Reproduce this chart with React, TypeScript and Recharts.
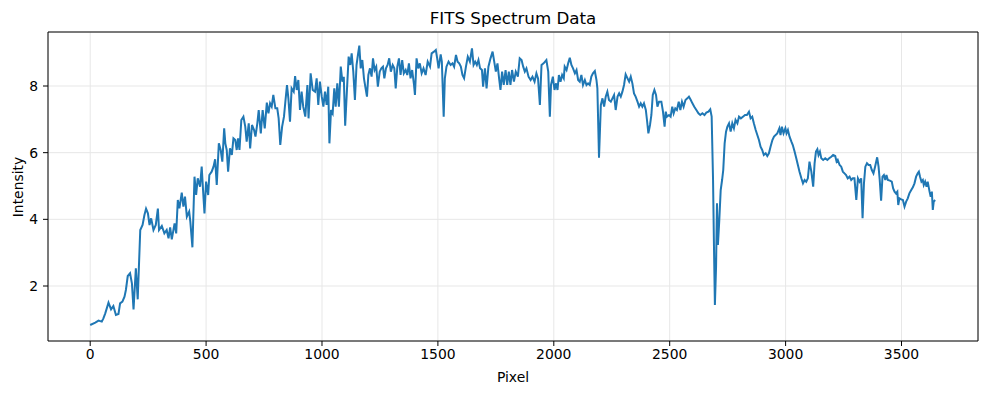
import { LineChart, Line, XAxis, YAxis, CartesianGrid, ReferenceLine } from "recharts";

// pixel index along the spectrum
const pixels = [
  0, 22, 36, 50, 57, 65, 79, 90, 100, 111, 122, 129, 139, 148, 154, 162, 172, 180, 187, 197, 205,
  216, 226, 234, 241, 249, 256, 263, 273, 283, 292, 297, 309, 320, 330, 338, 345, 352, 364, 371,
  378, 385, 395, 402, 409, 417, 427, 432, 441, 450, 457, 464,
  474, 481, 486, 493, 500, 509, 514, 524, 532, 539, 546, 555, 563, 570, 578, 583, 589, 595, 603,
  611, 618, 626, 632, 638, 644, 652, 661, 669, 675, 684, 690, 698, 707, 713, 721, 727, 736, 744,
  753, 762, 769, 776, 783, 790, 799, 807, 813, 820, 828, 836, 842, 849, 855, 862, 869, 878, 884,
  891, 898, 905, 912, 919, 928, 937, 942, 951, 960,
  970, 977, 984, 991, 999, 1006, 1013, 1020, 1027, 1032, 1039, 1046, 1053, 1059, 1066, 1073, 1081,
  1088, 1094, 1100, 1108, 1115, 1122, 1128, 1135, 1142, 1149, 1155, 1161, 1167, 1174, 1181, 1188,
  1194, 1200, 1207, 1214, 1220, 1227, 1234, 1241, 1249, 1256, 1263, 1269, 1276, 1283, 1290, 1297,
  1305, 1312, 1318, 1325, 1332, 1339, 1346, 1353, 1361, 1368, 1375, 1382, 1389, 1397, 1401, 1408,
  1415, 1422, 1430, 1438, 1447, 1456,
  1466, 1473, 1483, 1491, 1497, 1503, 1512, 1517, 1525, 1530, 1537, 1546, 1555, 1563, 1570, 1578,
  1585, 1592, 1599, 1606, 1613, 1621, 1629, 1638, 1647, 1654, 1661, 1668, 1675, 1682, 1690, 1695,
  1703, 1710, 1718, 1727, 1736, 1743, 1750, 1757, 1764, 1770, 1777, 1784, 1792, 1799, 1806, 1813,
  1820, 1828, 1836, 1845, 1853, 1861, 1868, 1875, 1882, 1891, 1900, 1908, 1917, 1925, 1932, 1940,
  1947, 1956,
  1968, 1976, 1983, 1988, 1996, 2003, 2010, 2016, 2022, 2029, 2036, 2043, 2047, 2055, 2062, 2069,
  2076, 2083, 2091, 2098, 2105, 2112, 2119, 2126, 2134, 2141, 2148, 2155, 2162, 2169, 2177, 2184,
  2188, 2195, 2203, 2210, 2217, 2224, 2231, 2238, 2246, 2253, 2260, 2267, 2275, 2282, 2289, 2296,
  2303, 2310, 2318, 2325, 2332, 2339, 2346, 2353, 2361, 2368, 2375, 2382, 2389, 2397, 2402, 2408,
  2415, 2421, 2427, 2434, 2441, 2447, 2454,
  2464, 2471, 2478, 2483, 2488, 2497, 2504, 2511, 2517, 2524, 2531, 2539, 2546, 2553, 2560, 2568,
  2576, 2583, 2591, 2598, 2606, 2615, 2624, 2632, 2641, 2650, 2658, 2667, 2675, 2681, 2687, 2691,
  2695, 2700, 2704, 2708, 2714, 2720, 2726, 2731, 2737, 2743, 2749, 2756, 2763, 2770, 2777, 2784,
  2792, 2799, 2807, 2816, 2825, 2833, 2842, 2849, 2856, 2863, 2871, 2878, 2885, 2892, 2899, 2906,
  2914, 2921, 2928, 2935, 2943, 2950,
  2964, 2973, 2978, 2984, 2991, 2999, 3004, 3010, 3017, 3025, 3031, 3039, 3046, 3053, 3060, 3068,
  3075, 3082, 3089, 3096, 3103, 3111, 3119, 3125, 3131, 3137, 3142, 3148, 3154, 3162, 3171, 3180,
  3188, 3197, 3205, 3214, 3220, 3225, 3233, 3240, 3247, 3254, 3261, 3268, 3276, 3283, 3290,
  3297, 3305, 3312, 3319, 3326, 3332, 3338, 3344, 3351, 3358, 3365, 3372, 3379, 3386, 3395, 3401,
  3406, 3412, 3418, 3424, 3430, 3435, 3441, 3450, 3458, 3464, 3470, 3476, 3482, 3486, 3491, 3499,
  3506, 3513, 3520, 3527, 3534, 3542, 3549, 3556, 3563, 3570, 3575, 3580, 3586, 3592, 3596, 3602,
  3608, 3613, 3621, 3626, 3631, 3635, 3639, 3645,
];

// intensity, one per pixel above
const intensity = [
  0.83, 0.9, 0.96, 0.93, 1.03, 1.18, 1.5, 1.3, 1.4, 1.13, 1.16, 1.48, 1.53, 1.68, 1.88, 2.3, 2.38, 2.08, 1.3, 2.53, 1.6,
  3.68, 3.83, 4.13, 4.32, 4.18, 3.83, 4.03, 3.68, 3.83, 4.32, 3.68, 3.8, 3.58, 3.68, 3.43, 3.76, 3.4, 3.88, 3.58,
  4.58, 4.33, 4.8, 4.38, 4.68, 4.08, 4.23, 3.93, 3.16, 5.28, 4.73, 5.23,
  4.98, 5.58, 4.98, 4.18, 5.13, 4.73, 5.33, 5.43, 5.58, 5.8, 5.03, 6.28, 6.08, 5.73, 6.73, 6.28, 6.08, 5.43, 6.13,
  5.93, 6.43, 6.38, 6.08, 6.43, 6.08, 6.98, 7.08, 6.78, 6.33, 6.88, 6.13, 6.83, 6.68, 6.48, 6.88, 7.28, 6.58, 7.28,
  6.73, 7.5, 7.18, 7.48, 7.38, 7.73, 7.33, 7.33, 7.03, 6.23, 6.78, 7.08, 7.53, 8.03, 7.63, 6.93, 7.93, 7.83, 8.3,
  7.88, 8.18, 7.28, 7.83, 7.38, 7.08, 8.03, 7.03, 8.38, 7.88,
  7.83, 8.23, 7.43, 8.13, 7.68, 7.38, 7.83, 7.43, 7.98, 6.28, 7.28, 7.18, 7.93, 7.38, 8.08, 7.38, 8.58,
  8.13, 8.28, 6.81, 7.93, 8.88, 8.63, 8.98, 8.43, 7.58, 8.63, 8.93, 9.21, 8.53, 8.78, 8.23, 7.93,
  7.68, 8.33, 8.53, 8.28, 8.83, 8.48, 8.58, 7.98, 8.43, 8.53, 8.58, 8.23, 8.53, 8.63, 8.83, 8.43,
  8.63, 8.53, 7.93, 8.58, 8.83, 8.33, 8.78, 8.38, 8.48, 8.33, 8.68, 8.23, 8.48, 8.03, 7.73, 8.83,
  8.53, 8.68, 8.38, 8.53, 8.33, 8.73,
  8.58, 8.98, 9.03, 9.08, 8.83, 8.53, 8.95, 8.73, 7.08, 8.23, 8.58, 8.73, 8.63, 8.68, 8.58, 8.93,
  8.73, 8.68, 8.58, 8.33, 8.23, 8.58, 8.88, 8.73, 9.13, 8.63, 8.73, 8.63, 8.78, 8.53, 8.48, 7.98,
  8.53, 7.93, 8.58, 8.83, 9.03, 8.73, 8.43, 8.68, 8.23, 7.88, 8.43, 8.03, 8.48, 8.03, 8.43, 8.03,
  8.48, 8.13, 8.43, 8.28, 8.83, 8.78, 8.58, 8.43, 8.53, 8.28, 8.18, 8.28, 8.13, 8.38, 8.23, 7.43,
  8.63, 8.68,
  8.78, 8.43, 7.08, 8.03, 8.28, 7.88, 8.08, 7.88, 8.33, 8.13, 8.33, 8.23, 8.58, 8.48, 8.68, 8.85,
  8.63, 8.53, 8.38, 8.48, 8.18, 8.13, 8.33, 8.03, 8.18, 8.03, 8.08, 8.03, 8.28, 8.38, 8.45, 8.18,
  7.93, 5.85, 7.43, 7.63, 7.38, 7.68, 7.83, 7.58, 7.53, 7.63, 7.73, 7.28, 7.68, 7.78, 7.68, 7.83,
  8.03, 8.35, 8.23, 8.13, 8.28, 8.08, 7.78, 7.68, 7.53, 7.38, 7.48, 7.38, 7.48, 7.28, 6.98, 6.58,
  6.83, 7.13, 7.73, 7.88, 7.73, 7.38, 7.53,
  7.53, 7.23, 6.78, 7.23, 7.08, 7.13, 7.08, 7.38, 7.18, 7.33, 7.28, 7.53, 7.28, 7.53, 7.38, 7.58,
  7.63, 7.68, 7.58, 7.48, 7.38, 7.28, 7.18, 7.13, 7.18, 7.13, 7.2, 7.23, 7.3, 7.08, 5.18, 3.18,
  1.43, 2.58, 4.48, 3.23, 3.98, 4.88, 5.18, 5.48, 6.28, 6.63, 6.78, 6.88, 6.63, 6.88, 6.73, 6.98,
  6.88, 7.08, 7.03, 7.08, 7.13, 7.13, 7.23, 7.03, 7.08, 6.88, 6.68, 6.53, 6.38, 6.18, 6.08, 5.93,
  5.98, 5.9, 5.98, 6.18, 6.38, 6.48,
  6.58, 6.73, 6.53, 6.78, 6.58, 6.73, 6.58, 6.68, 6.48, 6.33, 6.23, 6.03, 5.83, 5.63, 5.43, 5.23,
  5.08, 5.18, 5.13, 5.23, 5.73, 5.43, 4.98, 5.68, 6.03, 6.1, 5.93, 6.03, 5.83, 5.78, 5.83, 5.78,
  5.83, 5.88, 5.93, 5.9, 5.73, 5.78, 5.63, 5.58, 5.43, 5.38, 5.33, 5.23, 5.28, 5.18, 5.23,
  5.23, 4.58, 5.23, 5.13, 5.23, 4.03, 5.08, 5.58, 5.68, 5.63, 5.63, 5.48, 5.38, 5.58, 5.86, 5.58,
  5.18, 4.56, 5.28, 5.33, 5.18, 5.33, 5.18, 5.16, 5.13, 4.93, 4.83, 4.78, 4.83, 4.43, 4.63, 4.6,
  4.58, 4.38, 4.53, 4.63, 4.78, 4.88, 4.96, 5.08, 5.28, 5.38, 5.43, 5.28, 5.13, 5.18, 5.03, 5.13,
  4.98, 5.13, 4.83, 4.68, 4.83, 4.28, 4.53, 4.58,
];

const xTicks = [0, 500, 1000, 1500, 2000, 2500, 3000, 3500];
const yTicks = [2, 4, 6, 8];
const xDomain: [number, number] = [-182, 3830];
const yDomain: [number, number] = [0.35, 9.62];

const data = pixels.map((x, i) => ({ x, y: intensity[i] }));

const font = "'DejaVu Sans', sans-serif";
const tickStyle = { fill: "#000", fontSize: 13.9, fontFamily: font };

export default function App() {
  return (
    <div style={{ position: "absolute", left: 0, top: 0, width: 988, height: 393, background: "#fff", fontFamily: font, color: "#000" }}>
      <LineChart width={988} height={393} data={data} margin={{ top: 32, right: 10, bottom: 0, left: 0 }}>
        <CartesianGrid stroke="#e7e7e7" strokeWidth={1} />
        <XAxis
          dataKey="x"
          type="number"
          domain={xDomain}
          ticks={xTicks}
          allowDataOverflow
          height={52}
          tick={tickStyle}
          tickSize={5}
          tickMargin={3}
          axisLine={{ stroke: "#000", strokeWidth: 1 }}
          tickLine={{ stroke: "#000", strokeWidth: 1 }}
        />
        <YAxis
          type="number"
          domain={yDomain}
          ticks={yTicks}
          allowDataOverflow
          width={48}
          tick={tickStyle}
          tickSize={5}
          tickMargin={5}
          axisLine={{ stroke: "#000", strokeWidth: 1 }}
          tickLine={{ stroke: "#000", strokeWidth: 1 }}
        />
        <ReferenceLine y={yDomain[1]} stroke="#000" strokeWidth={1} ifOverflow="visible" />
        <ReferenceLine x={xDomain[1]} stroke="#000" strokeWidth={1} ifOverflow="visible" />
        <Line type="linear" dataKey="y" stroke="#1f77b4" strokeWidth={2} dot={false} activeDot={false} isAnimationActive={false} />
      </LineChart>
      <div style={{ position: "absolute", left: 48, width: 930, top: 8, textAlign: "center", fontSize: 16.7, lineHeight: "20px" }}>
        FITS Spectrum Data
      </div>
      <div style={{ position: "absolute", left: 48, width: 930, top: 367, textAlign: "center", fontSize: 13.9, lineHeight: "20px" }}>
        Pixel
      </div>
      <div
        style={{
          position: "absolute",
          left: 17.5,
          top: 186.5,
          fontSize: 13.9,
          lineHeight: "20px",
          whiteSpace: "nowrap",
          transform: "translate(-50%, -50%) rotate(-90deg)",
        }}
      >
        Intensity
      </div>
    </div>
  );
}
